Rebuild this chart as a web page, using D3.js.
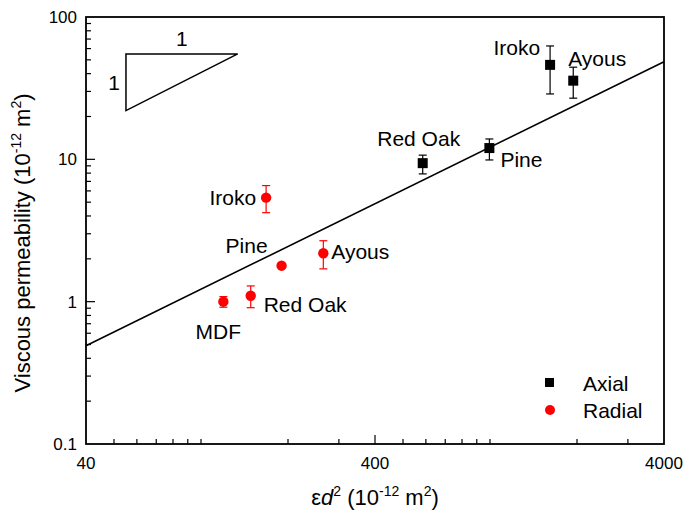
<!DOCTYPE html>
<html><head><meta charset="utf-8">
<script src="https://cdn.jsdelivr.net/npm/d3@7"></script>
<style>body{margin:0;background:#fff;} text{font-family:Arial,"Liberation Sans",sans-serif;fill:#000;}</style>
</head><body><svg id="c" width="687" height="513"></svg>
<script>
// ---- data ----
const axialNames = ["Red Oak","Pine","Iroko","Ayous"];
const axialX     = [585, 995, 1614, 1941];
const axialY     = [9.4, 12.0, 46.1, 35.7];
const axialLo    = [7.9, 9.9, 28.8, 26.9];
const axialHi    = [10.7, 13.9, 62.6, 44.4];

const radialNames = ["Iroko","Ayous","Pine","Red Oak","MDF"];
const radialX     = [168, 265, 190, 148.6, 119.5];
const radialY     = [5.38, 2.19, 1.79, 1.10, 1.00];
const radialLo    = [4.22, 1.70, 1.74, 0.907, 0.914];
const radialHi    = [6.54, 2.68, 1.84, 1.29, 1.085];

const fitLine  = [[40, 0.49], [4000, 48.5]];
const slopeTri = [[55, 55], [134, 55], [55, 22]];
const xTickLabels = [40, 400, 4000];
const yTickLabels = [0.1, 1, 10, 100];

// ---- layout ----
const L = 86, R = 664, T = 17, B = 444;
const svg = d3.select("#c");
const x = d3.scaleLog().domain([40, 4000]).range([L, R]);
const y = d3.scaleLog().domain([0.1, 100]).range([B, T]);

// minor ticks
const xMinor = [], yMinor = [];
[10, 100, 1000].forEach(d => { for (let k = 1; k < 10; k++) { const v = d * k; if (v > 40 && v < 4000 && v !== 400) xMinor.push(v); } });
[0.1, 1, 10].forEach(d => { for (let k = 2; k < 10; k++) yMinor.push(d * k); });

const g = svg.append("g");
// ticks (inward)
g.selectAll(".xm").data(xMinor).enter().append("line")
  .attr("x1", d => x(d)).attr("x2", d => x(d)).attr("y1", B).attr("y2", B - 5)
  .attr("stroke", "#000").attr("stroke-width", 1.2);
g.selectAll(".xM").data([400]).enter().append("line")
  .attr("x1", d => x(d)).attr("x2", d => x(d)).attr("y1", B).attr("y2", B - 9)
  .attr("stroke", "#000").attr("stroke-width", 1.2);
g.selectAll(".ym").data(yMinor).enter().append("line")
  .attr("y1", d => y(d)).attr("y2", d => y(d)).attr("x1", L).attr("x2", L + 5)
  .attr("stroke", "#000").attr("stroke-width", 1.2);
g.selectAll(".yM").data([1, 10]).enter().append("line")
  .attr("y1", d => y(d)).attr("y2", d => y(d)).attr("x1", L).attr("x2", L + 9)
  .attr("stroke", "#000").attr("stroke-width", 1.2);

// frame
g.append("rect").attr("x", L).attr("y", T).attr("width", R - L).attr("height", B - T)
  .attr("fill", "none").attr("stroke", "#000").attr("stroke-width", 1.8);

// tick labels
g.selectAll(".xl").data(xTickLabels).enter().append("text")
  .attr("x", d => x(d)).attr("y", B + 25).attr("text-anchor", "middle")
  .attr("font-size", 17).text(d => d);
g.selectAll(".yl").data(yTickLabels).enter().append("text")
  .attr("x", L - 9).attr("y", d => y(d) + 6).attr("text-anchor", "end")
  .attr("font-size", 17).text(d => d);

// axis titles
const xt = svg.append("text").attr("x", 375).attr("y", 505).attr("text-anchor", "middle").attr("font-size", 22);
xt.append("tspan").text("ε");
xt.append("tspan").attr("font-style", "italic").text("d");
xt.append("tspan").attr("font-size", 14).attr("dy", -9).text("2");
xt.append("tspan").attr("dy", 9).text(" (10");
xt.append("tspan").attr("font-size", 14).attr("dy", -9).text("-12");
xt.append("tspan").attr("dy", 9).text(" m");
xt.append("tspan").attr("font-size", 14).attr("dy", -9).text("2");
xt.append("tspan").attr("dy", 9).text(")");

const yt = svg.append("text").attr("transform", "translate(30,243) rotate(-90)").attr("text-anchor", "middle").attr("font-size", 22);
yt.append("tspan").text("Viscous permeability (10");
yt.append("tspan").attr("font-size", 14).attr("dy", -9).text("-12");
yt.append("tspan").attr("dy", 9).text(" m");
yt.append("tspan").attr("font-size", 14).attr("dy", -9).text("2");
yt.append("tspan").attr("dy", 9).text(")");

// fit line
svg.append("path").datum(fitLine)
  .attr("d", d3.line().x(d => x(d[0])).y(d => y(d[1])))
  .attr("fill", "none").attr("stroke", "#000").attr("stroke-width", 1.6);

// slope triangle
svg.append("path").datum(slopeTri)
  .attr("d", d3.line().x(d => x(d[0])).y(d => y(d[1])).curve(d3.curveLinearClosed))
  .attr("fill", "none").attr("stroke", "#000").attr("stroke-width", 1.5);
svg.append("text").attr("x", (x(slopeTri[0][0]) + x(slopeTri[1][0])) / 2).attr("y", y(slopeTri[0][1]) - 8)
  .attr("text-anchor", "middle").attr("font-size", 21).text("1");
svg.append("text").attr("x", x(slopeTri[0][0]) - 6).attr("y", (y(slopeTri[0][1]) + y(slopeTri[2][1])) / 2 + 8)
  .attr("text-anchor", "end").attr("font-size", 21).text("1");

// error bars + markers
function series(names, xs, ys, lo, hi, color, shape, labelPos) {
  const data = names.map((n, i) => ({n, x: xs[i], y: ys[i], lo: lo[i], hi: hi[i], lp: labelPos[i]}));
  const gg = svg.append("g");
  data.forEach(d => {
    const cx = x(d.x);
    gg.append("line").attr("x1", cx).attr("x2", cx).attr("y1", y(d.lo)).attr("y2", y(d.hi))
      .attr("stroke", color).attr("stroke-width", 1.2);
    [d.lo, d.hi].forEach(v => gg.append("line").attr("x1", cx - 4).attr("x2", cx + 4)
      .attr("y1", y(v)).attr("y2", y(v)).attr("stroke", color).attr("stroke-width", 1.2));
    if (shape === "square") {
      gg.append("rect").attr("x", cx - 5).attr("y", y(d.y) - 5).attr("width", 10).attr("height", 10).attr("fill", color);
    } else {
      gg.append("circle").attr("cx", cx).attr("cy", y(d.y)).attr("r", 5.2).attr("fill", color);
    }
    gg.append("text").attr("x", cx + d.lp[0]).attr("y", y(d.y) + d.lp[1]).attr("dy", "0.36em")
      .attr("text-anchor", d.lp[2]).attr("font-size", 21).text(d.n);
  });
}
// label offsets [dx, dy, anchor]
series(axialNames, axialX, axialY, axialLo, axialHi, "#000", "square",
  [[-4, -25, "middle"], [11, 11, "start"], [-10, -17, "end"], [-5, -22, "start"]]);
series(radialNames, radialX, radialY, radialLo, radialHi, "#ff0000", "circle",
  [[-10, 0, "end"], [8, -2, "start"], [-35, -20, "middle"], [13, 9, "start"], [-5, 30, "middle"]]);

// legend
const leg = svg.append("g");
leg.append("rect").attr("x", 545).attr("y", 378).attr("width", 9).attr("height", 9).attr("fill", "#000");
leg.append("circle").attr("cx", 550).attr("cy", 410).attr("r", 5).attr("fill", "#ff0000");
leg.append("text").attr("x", 583).attr("y", 383).attr("dy", "0.36em").attr("font-size", 21).text("Axial");
leg.append("text").attr("x", 583).attr("y", 410).attr("dy", "0.36em").attr("font-size", 21).text("Radial");
</script></body></html>
